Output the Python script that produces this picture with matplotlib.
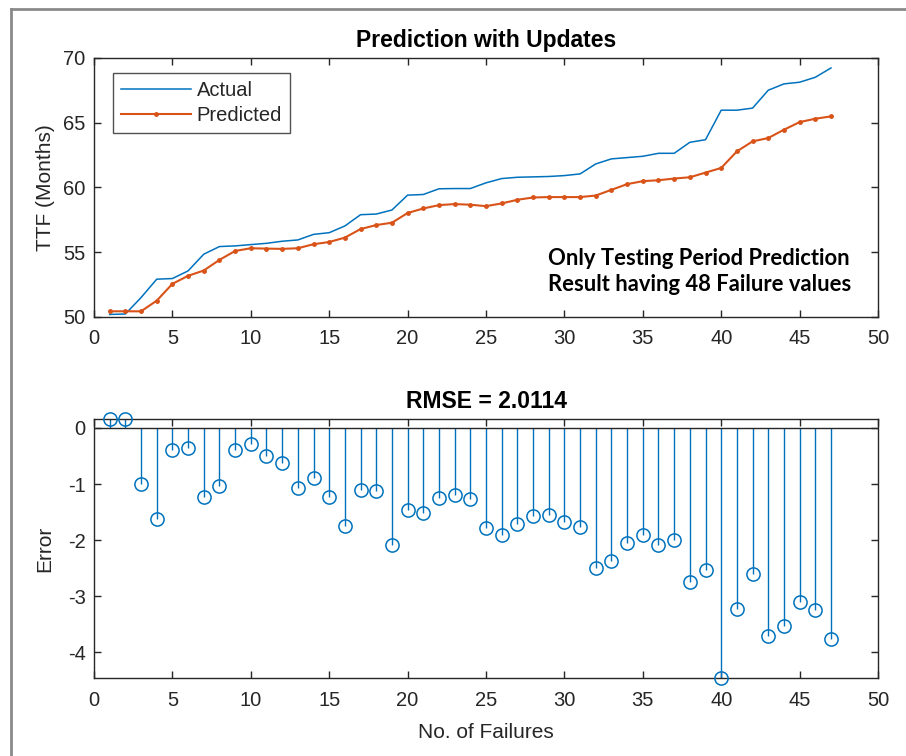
import numpy as np
import matplotlib
matplotlib.use("Agg")
import matplotlib.pyplot as plt
from matplotlib.lines import Line2D

# Failure index (testing period)
failures = list(range(1, 48))

# Time to failure, months
actual = [50.20, 50.23, 51.50, 52.92, 52.97, 53.56, 54.85, 55.44, 55.49, 55.59,
          55.69, 55.85, 55.95, 56.38, 56.51, 57.03, 57.90, 57.95, 58.26, 59.41,
          59.46, 59.90, 59.92, 59.92, 60.36, 60.69, 60.79, 60.82, 60.85, 60.92,
          61.05, 61.82, 62.21, 62.31, 62.41, 62.64, 62.64, 63.49, 63.69, 65.97,
          65.97, 66.13, 67.51, 68.00, 68.13, 68.51, 69.23]

predicted = [50.44, 50.44, 50.44, 51.26, 52.56, 53.18, 53.59, 54.41, 55.10, 55.31,
             55.28, 55.26, 55.31, 55.62, 55.79, 56.13, 56.79, 57.10, 57.28, 58.03,
             58.38, 58.64, 58.72, 58.67, 58.56, 58.77, 59.05, 59.23, 59.26, 59.26,
             59.26, 59.38, 59.82, 60.26, 60.49, 60.56, 60.69, 60.79, 61.15, 61.51,
             62.79, 63.56, 63.82, 64.46, 65.05, 65.31, 65.49]

# Prediction error per failure
error = [0.16, 0.16, -1.00, -1.62, -0.40, -0.35, -1.23, -1.03, -0.39, -0.28,
         -0.50, -0.63, -1.07, -0.89, -1.23, -1.75, -1.11, -1.13, -2.09, -1.47,
         -1.51, -1.25, -1.19, -1.26, -1.78, -1.91, -1.72, -1.57, -1.55, -1.67,
         -1.76, -2.50, -2.38, -2.06, -1.91, -2.09, -2.00, -2.75, -2.54, -4.46,
         -3.23, -2.61, -3.71, -3.54, -3.11, -3.25, -3.77]

rmse_text = "RMSE = 2.0114"
x_ticks = list(range(0, 51, 5))
ttf_ticks = [50, 55, 60, 65, 70]
err_ticks = [-4, -3, -2, -1, 0]

BLUE = "#0072BD"
ORANGE = "#D95319"
AXC = "#262626"

plt.rcParams["font.family"] = ["Liberation Sans", "DejaVu Sans"]
plt.rcParams["axes.unicode_minus"] = False

fig = plt.figure(figsize=(9.06, 7.56), dpi=100)
W, H = 906, 756


def px_axes(left, top, right, bottom):
    return fig.add_axes([left / W, 1 - bottom / H, (right - left) / W, (bottom - top) / H])


def style(ax):
    for s in ax.spines.values():
        s.set_color(AXC)
        s.set_linewidth(1.0)
    ax.tick_params(direction="in", length=5, width=1.0, color=AXC,
                   top=True, right=True, labelsize=14.5, labelcolor=AXC)
    ax.tick_params(axis="x", pad=9)
    ax.tick_params(axis="y", pad=6)


# window frame edges
fig.add_artist(Line2D([11 / W, 1], [1 - 9 / H, 1 - 9 / H], transform=fig.transFigure,
                      color="#8a8a8a", lw=2))
fig.add_artist(Line2D([11 / W, 11 / W], [0, 1 - 9 / H], transform=fig.transFigure,
                      color="#8a8a8a", lw=2))

# Upper panel: actual vs predicted TTF
ax1 = px_axes(94, 58, 878, 317)
ax1.plot(failures, actual, color=BLUE, lw=1.1, label="Actual")
ax1.plot(failures, predicted, color=ORANGE, lw=1.5, marker=".", markersize=5,
         label="Predicted")
ax1.set_xlim(0, 50)
ax1.set_ylim(50, 70)
ax1.set_xticks(x_ticks)
ax1.set_yticks(ttf_ticks)
style(ax1)
ax1.set_ylabel("TTF (Months)", fontsize=15, color=AXC, labelpad=6)
ax1.set_title("Prediction with Updates", fontsize=16.5, fontweight="bold",
              color="black", pad=8)
leg = ax1.legend(loc="upper left", bbox_to_anchor=(19 / 784, 1 - 15 / 259),
                 fontsize=14.5, frameon=True, fancybox=False, handlelength=3.45,
                 handletextpad=0.3, borderpad=0.4, labelspacing=0.3,
                 borderaxespad=0)
leg.get_frame().set_edgecolor(AXC)
leg.get_frame().set_linewidth(1.0)
for t in leg.get_texts():
    t.set_color(AXC)
ax1.text(0.772, 0.175, "Only Testing Period Prediction\nResult having 48 Failure values",
         transform=ax1.transAxes, ha="center", va="center", fontsize=15.8,
         fontweight="bold", family=["Lato", "DejaVu Sans"], linespacing=1.3,
         color="black")

# Lower panel: error stem plot
ax2 = px_axes(94, 419, 878, 678)
markerline, stemlines, baseline = ax2.stem(failures, error, basefmt=" ")
plt.setp(stemlines, color=BLUE, linewidth=1.0)
plt.setp(markerline, color=BLUE, marker="o", markersize=9.5, markerfacecolor="none",
         markeredgewidth=1.1, clip_on=False, zorder=5)
ax2.axhline(0, color=AXC, lw=1.0, zorder=4)
ax2.set_xlim(0, 50)
ax2.set_ylim(min(error), max(error))
ax2.set_xticks(x_ticks)
ax2.set_yticks(err_ticks)
style(ax2)
ax2.set_ylabel("Error", fontsize=15, color=AXC, labelpad=10)
ax2.set_xlabel("No. of Failures", fontsize=15, color=AXC, labelpad=10)
ax2.set_title(rmse_text, fontsize=16.5, fontweight="bold", color="black", pad=8)

fig.savefig("out.png", dpi=100)
